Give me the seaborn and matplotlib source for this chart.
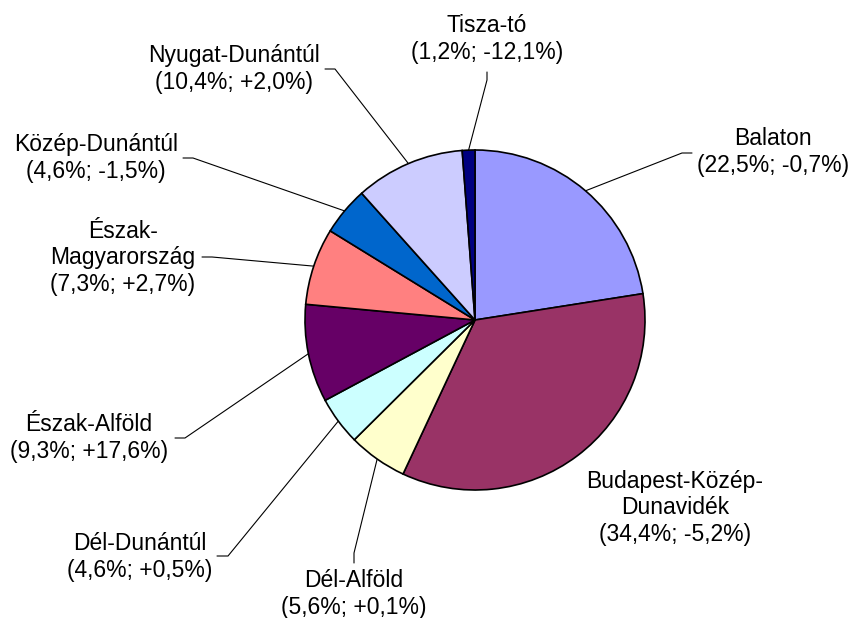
import numpy as np
import matplotlib
matplotlib.use("Agg")
import matplotlib.pyplot as plt
import seaborn as sns

# regions, clockwise from 12 o'clock
regions = ["Balaton", "Budapest-Közép-\nDunavidék", "Dél-Alföld", "Dél-Dunántúl",
           "Észak-Alföld", "Észak-\nMagyarország", "Közép-Dunántúl",
           "Nyugat-Dunántúl", "Tisza-tó"]
shares = [22.5, 34.4, 5.6, 4.6, 9.3, 7.3, 4.6, 10.4, 1.2]
changes = ["-0,7%", "-5,2%", "+0,1%", "+0,5%", "+17,6%", "+2,7%", "-1,5%", "+2,0%", "-12,1%"]
colors = ["#9999FF", "#993366", "#FFFFCC", "#CCFFFF", "#660066",
          "#FF8080", "#0066CC", "#CCCCFF", "#000080"]

# label block centres (pixels, from top-left)
label_pos = [(773, 152), (675, 508), (354, 594), (140, 557), (89, 438),
             (123, 258), (96, 158), (234, 69), (487, 39)]
# leader line start / elbow (pixels); None = no leader
leader_start = [((692, 153), (682, 153)), None, ((354, 563), (354, 553)),
                ((217, 556), (228, 556)), ((175, 438), (185, 438)),
                ((202, 257), (212, 257)), ((183, 158), (193, 158)),
                ((325, 69), (335, 69)), ((487, 72), (487, 80))]

W, H = 853, 618
center = (475, H - 320)
radius = 170

sns.set_theme(style="white")
plt.rcParams["font.family"] = ["Liberation Sans", "DejaVu Sans"]

fig = plt.figure(figsize=(W / 100, H / 100), dpi=100)
ax = fig.add_axes([0, 0, 1, 1])
ax.set_xlim(0, W)
ax.set_ylim(0, H)
ax.axis("off")

wedges, _ = ax.pie(shares, colors=sns.color_palette(colors), startangle=90,
                   counterclock=False, center=center, radius=radius,
                   wedgeprops=dict(edgecolor="black", linewidth=1.2))
ax.set_xlim(0, W)
ax.set_ylim(0, H)

for w, name, s, ch, (lx, ly), ld in zip(wedges, regions, shares, changes,
                                         label_pos, leader_start):
    txt = f"{name}\n({s:.1f}%; {ch})".replace(".", ",")
    ax.text(lx, H - ly, txt, ha="center", va="center", ma="center",
            fontsize=16.5, linespacing=1.22, color="black")
    if ld is None:
        continue
    mid = np.deg2rad((w.theta1 + w.theta2) / 2)
    ex = center[0] + radius * np.cos(mid)
    ey = center[1] + radius * np.sin(mid)
    (x0, y0), (x1, y1) = ld
    ax.plot([x0, x1, ex], [H - y0, H - y1, ey], color="black", lw=0.8,
            solid_joinstyle="miter", zorder=0.5)

fig.savefig("out.png", dpi=100, facecolor="white")
